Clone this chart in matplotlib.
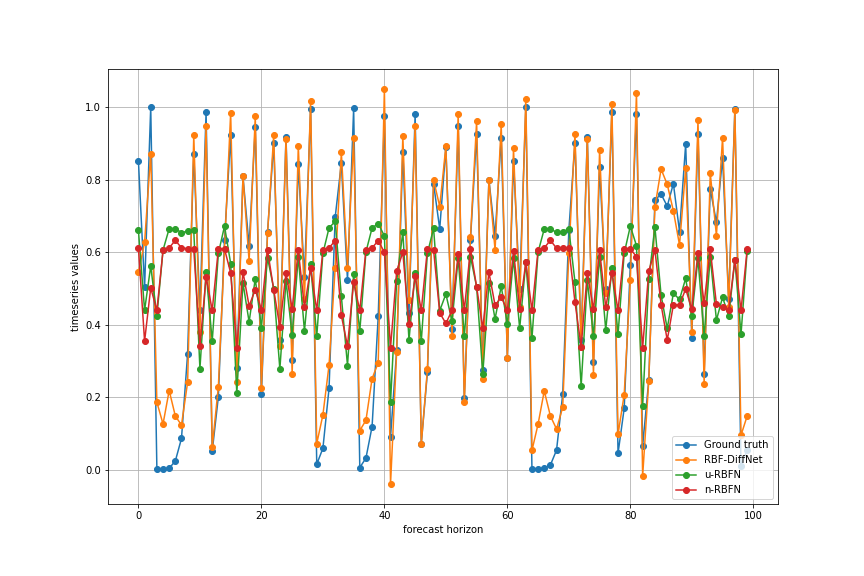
import matplotlib
matplotlib.use("Agg")
import matplotlib.pyplot as plt
import numpy as np

horizon = list(range(100))

ground_truth = [
    0.851, 0.503, 1.000, 0.002, 0.002, 0.005, 0.025, 0.087, 0.321, 0.872,
    0.440, 0.986, 0.052, 0.202, 0.635, 0.923, 0.280, 0.809, 0.617, 0.945,
    0.209, 0.656, 0.901, 0.358, 0.918, 0.303, 0.843, 0.531, 0.994, 0.016,
    0.060, 0.225, 0.697, 0.845, 0.523, 0.996, 0.007, 0.033, 0.120, 0.424,
    0.975, 0.091, 0.330, 0.877, 0.433, 0.980, 0.073, 0.269, 0.789, 0.664,
    0.890, 0.388, 0.948, 0.199, 0.635, 0.926, 0.275, 0.800, 0.645, 0.914,
    0.310, 0.851, 0.500, 0.999, 0.003, 0.003, 0.006, 0.014, 0.055, 0.209,
    0.661, 0.902, 0.358, 0.918, 0.298, 0.834, 0.500, 0.986, 0.046, 0.170,
    0.565, 0.981, 0.066, 0.248, 0.744, 0.760, 0.727, 0.789, 0.657, 0.898,
    0.365, 0.927, 0.266, 0.774, 0.682, 0.861, 0.470, 0.994, 0.012, 0.055,
]

rbf_diffnet = [
    0.545, 0.627, 0.872, 0.187, 0.127, 0.219, 0.149, 0.124, 0.242, 0.922,
    0.379, 0.947, 0.063, 0.230, 0.610, 0.984, 0.242, 0.809, 0.575, 0.974,
    0.225, 0.653, 0.922, 0.342, 0.913, 0.264, 0.893, 0.470, 1.016, 0.073,
    0.152, 0.289, 0.558, 0.875, 0.558, 0.914, 0.109, 0.137, 0.252, 0.296,
    1.050, -0.039, 0.326, 0.920, 0.468, 0.948, 0.072, 0.278, 0.799, 0.726,
    0.892, 0.370, 0.981, 0.187, 0.641, 0.961, 0.251, 0.800, 0.606, 0.953,
    0.308, 0.886, 0.450, 1.022, 0.054, 0.127, 0.218, 0.149, 0.113, 0.173,
    0.597, 0.927, 0.340, 0.913, 0.262, 0.881, 0.487, 1.008, 0.098, 0.208,
    0.523, 1.040, -0.017, 0.246, 0.725, 0.829, 0.787, 0.714, 0.620, 0.831,
    0.379, 0.964, 0.237, 0.818, 0.646, 0.916, 0.450, 0.992, 0.096, 0.149,
]

u_rbfn = [
    0.660, 0.440, 0.562, 0.425, 0.606, 0.665, 0.665, 0.654, 0.658, 0.660,
    0.279, 0.545, 0.355, 0.597, 0.672, 0.569, 0.211, 0.516, 0.408, 0.527,
    0.392, 0.585, 0.500, 0.278, 0.522, 0.371, 0.588, 0.383, 0.567, 0.369,
    0.597, 0.667, 0.685, 0.479, 0.288, 0.539, 0.383, 0.601, 0.667, 0.679,
    0.645, 0.187, 0.521, 0.656, 0.358, 0.544, 0.355, 0.597, 0.666, 0.439,
    0.485, 0.410, 0.583, 0.369, 0.588, 0.505, 0.264, 0.514, 0.416, 0.507,
    0.401, 0.583, 0.390, 0.572, 0.363, 0.601, 0.664, 0.664, 0.655, 0.657,
    0.664, 0.517, 0.231, 0.523, 0.370, 0.588, 0.386, 0.556, 0.374, 0.597,
    0.672, 0.618, 0.176, 0.526, 0.669, 0.482, 0.390, 0.487, 0.470, 0.528,
    0.424, 0.583, 0.369, 0.588, 0.413, 0.476, 0.424, 0.579, 0.374, 0.604,
]

n_rbfn = [
    0.612, 0.355, 0.502, 0.440, 0.605, 0.612, 0.633, 0.612, 0.610, 0.608,
    0.342, 0.532, 0.440, 0.609, 0.609, 0.543, 0.337, 0.546, 0.452, 0.497,
    0.442, 0.606, 0.497, 0.394, 0.543, 0.444, 0.606, 0.448, 0.556, 0.440,
    0.605, 0.612, 0.632, 0.426, 0.342, 0.517, 0.440, 0.606, 0.612, 0.632,
    0.600, 0.337, 0.548, 0.600, 0.401, 0.534, 0.440, 0.609, 0.606, 0.433,
    0.404, 0.440, 0.595, 0.440, 0.609, 0.505, 0.390, 0.545, 0.454, 0.476,
    0.440, 0.603, 0.445, 0.572, 0.440, 0.606, 0.612, 0.633, 0.611, 0.611,
    0.611, 0.462, 0.340, 0.543, 0.443, 0.606, 0.448, 0.544, 0.440, 0.609,
    0.609, 0.588, 0.337, 0.548, 0.606, 0.456, 0.358, 0.455, 0.455, 0.499,
    0.443, 0.599, 0.459, 0.608, 0.457, 0.448, 0.440, 0.579, 0.440, 0.608,
]

series_labels = ["Ground truth", "RBF-DiffNet", "u-RBFN", "n-RBFN"]

fig, ax = plt.subplots(figsize=(12, 8), dpi=72)
fig.subplots_adjust(left=0.125, right=0.9, top=0.88, bottom=0.125)
for vals, lab in zip([ground_truth, rbf_diffnet, u_rbfn, n_rbfn], series_labels):
    ax.plot(horizon, vals, marker="o", label=lab)

ax.set_xlabel("forecast horizon")
ax.set_ylabel("timeseries values")
ax.grid(True)
ax.legend(loc="lower right")
fig.savefig("out.png", dpi=72)
